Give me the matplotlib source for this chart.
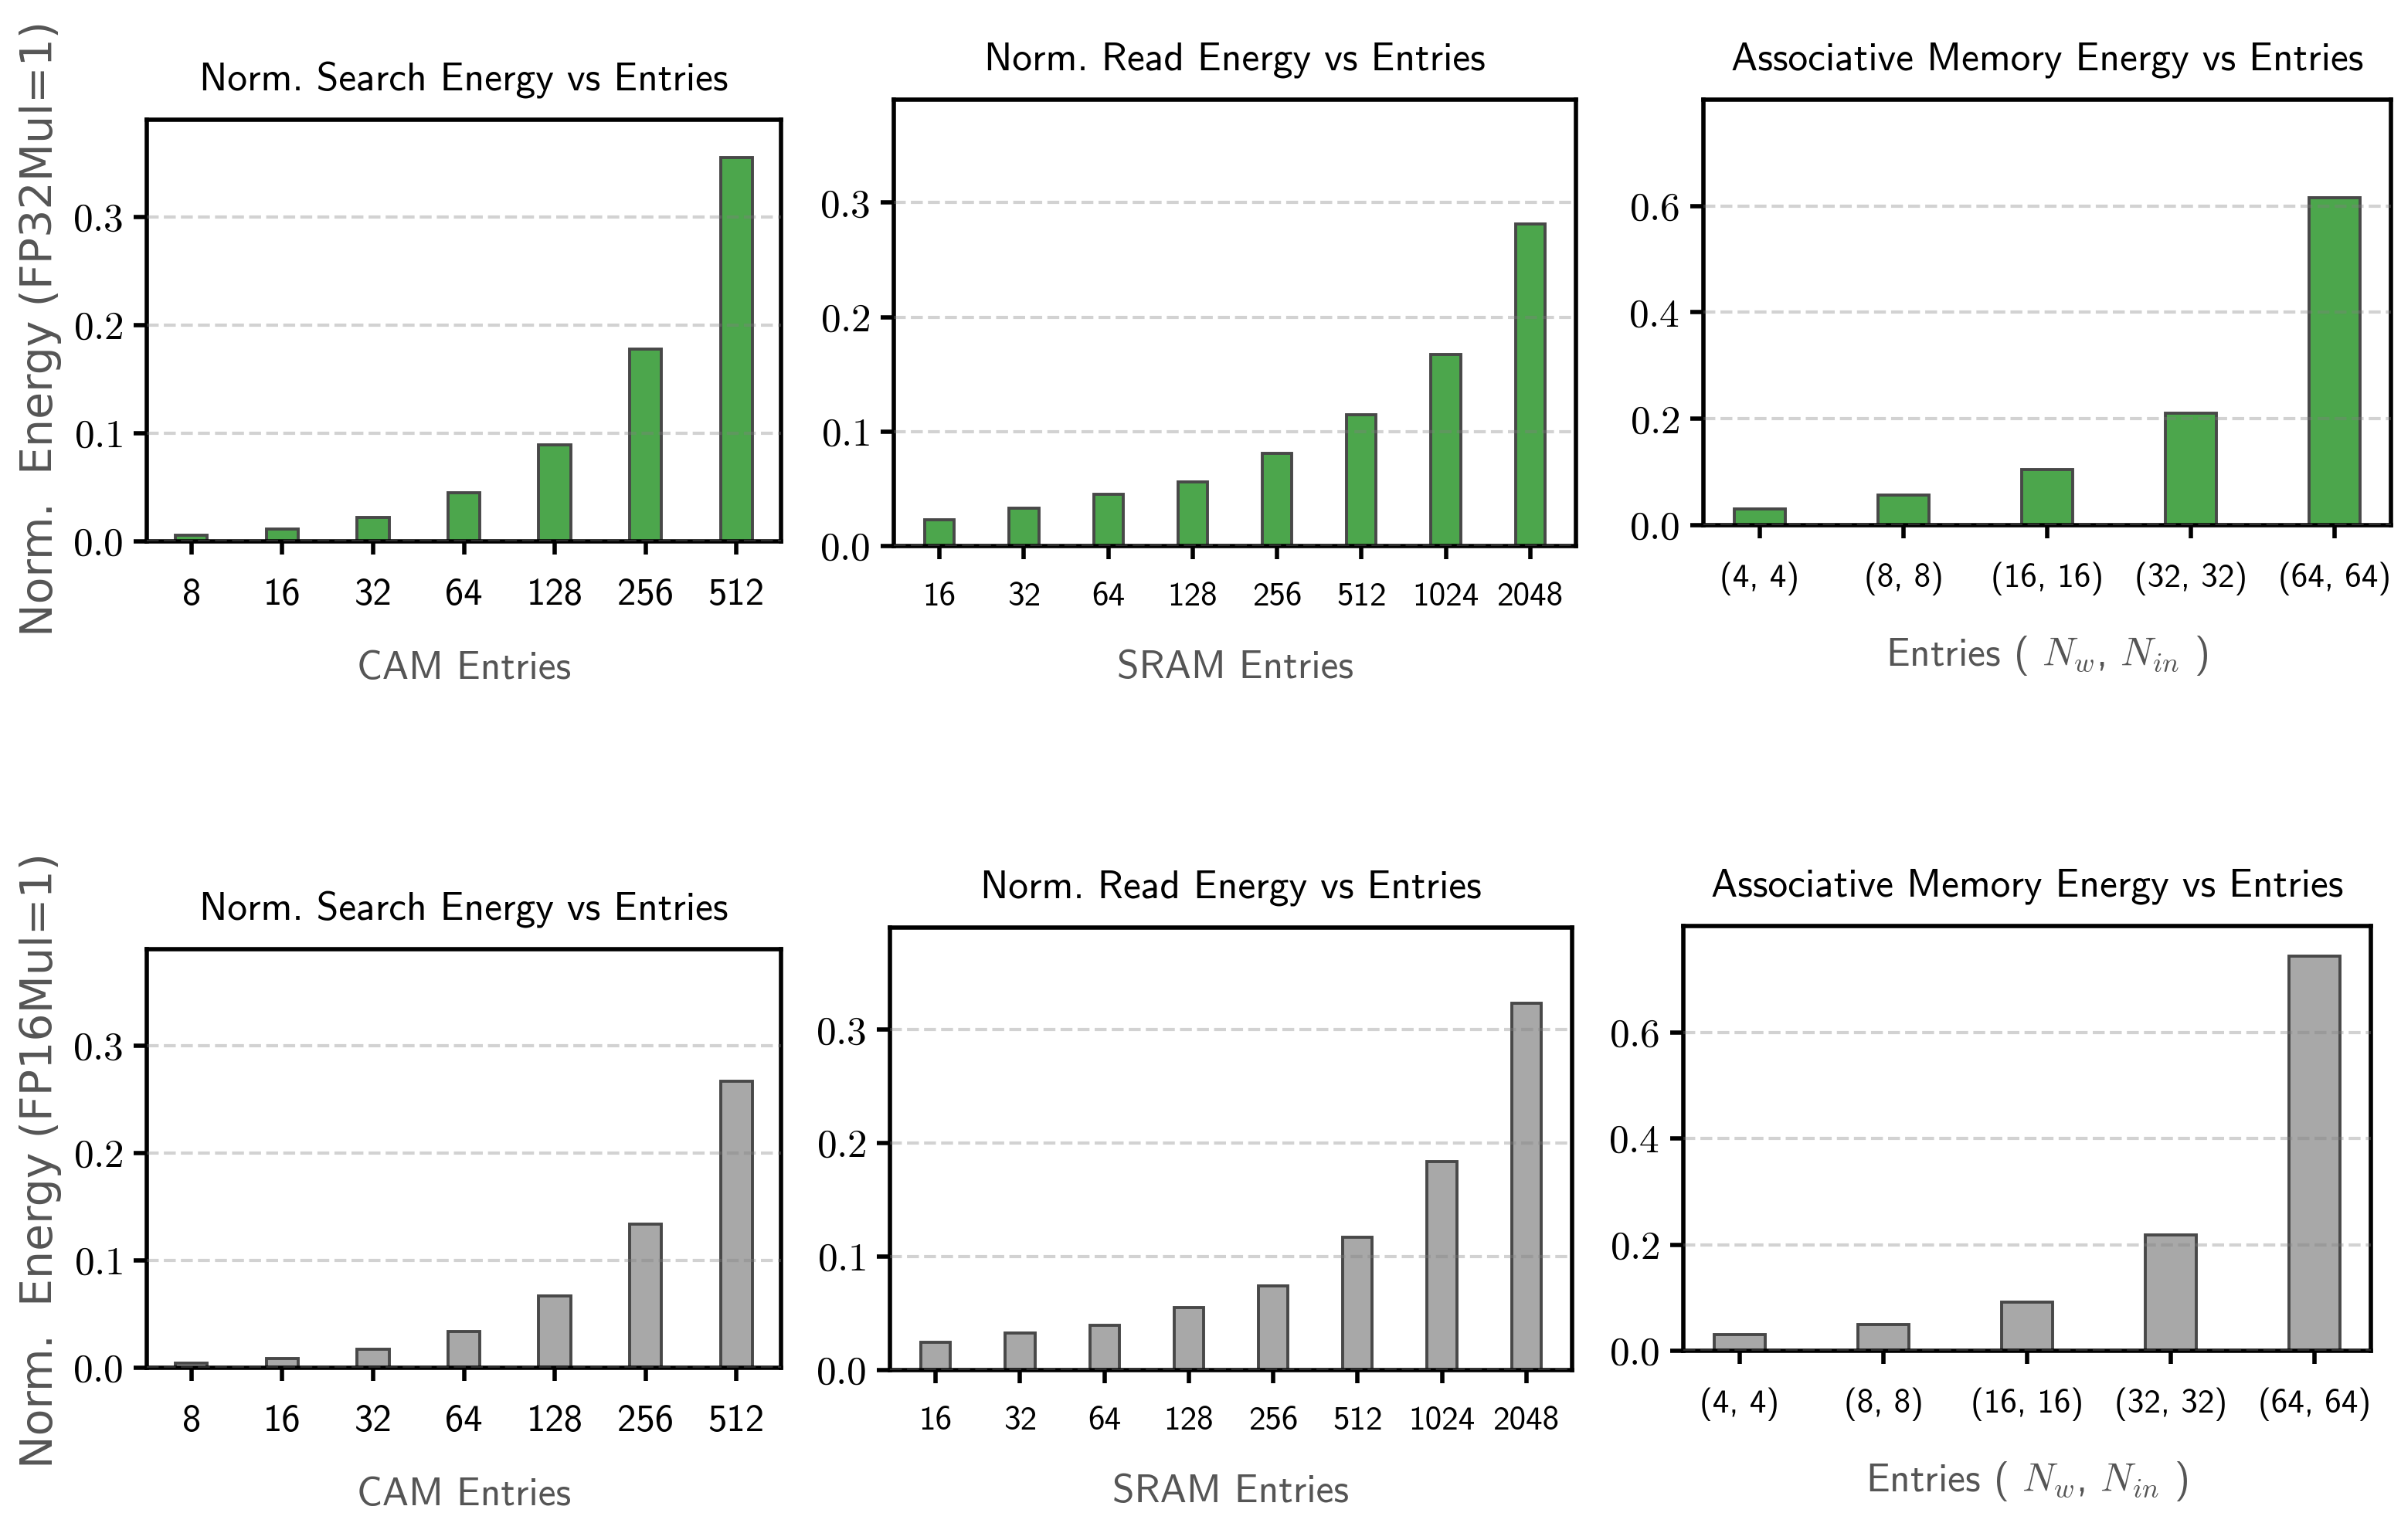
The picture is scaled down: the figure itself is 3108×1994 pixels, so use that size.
import numpy as np
import matplotlib
matplotlib.use('Agg')
import matplotlib.pyplot as plt

# data
cam_entries = ['8', '16', '32', '64', '128', '256', '512']
sram_entries = ['16', '32', '64', '128', '256', '512', '1024', '2048']
assoc_entries = ['(4, 4)', '(8, 8)', '(16, 16)', '(32, 32)', '(64, 64)']

cam_fp32 = [0.0055, 0.0112, 0.0223, 0.0447, 0.0895, 0.1775, 0.3553]
sram_fp32 = [0.0232, 0.0332, 0.0449, 0.0561, 0.0813, 0.1150, 0.1670, 0.2815]
assoc_fp32 = [0.0300, 0.0567, 0.1047, 0.2110, 0.6155]

cam_fp16 = [0.0043, 0.0086, 0.0172, 0.0340, 0.0672, 0.1336, 0.2668]
sram_fp16 = [0.0248, 0.0326, 0.0395, 0.0550, 0.0745, 0.1170, 0.1840, 0.3236]
assoc_fp16 = [0.0305, 0.0497, 0.0915, 0.2180, 0.7430]

W, H = 3108, 1994
DPI = 200

plt.rcParams['font.family'] = ['cmss10', 'DejaVu Sans']
plt.rcParams['mathtext.fontset'] = 'cm'
plt.rcParams['axes.unicode_minus'] = False

GREEN = '#4ca64c'
GREY = '#a8a8a8'
EDGE = '#484848'
LABEL_GREY = '#555555'


def px_box(left, right, top, bottom):
    # axes box in pixels of the output picture
    return [left / W, 1 - bottom / H, (right - left) / W, (bottom - top) / H]


def bar_panel(fig, box, labels, values, color, title, xlabel, ylim, yticks, xfs):
    ax = fig.add_axes(box)
    x = np.arange(len(labels))
    ax.bar(x, values, width=0.35, color=color, edgecolor=EDGE, linewidth=1.4, zorder=2)
    ax.set_xticks(x)
    ax.set_xticklabels(labels, fontsize=xfs)
    ax.set_ylim(0, ylim)
    ax.set_yticks(yticks)
    ax.set_yticklabels([f'${t:.1f}$' for t in yticks], fontsize=18.5)
    ax.grid(axis='y', linestyle='--', color='gray', alpha=0.35, linewidth=1.5, zorder=3)
    ax.set_axisbelow(False)
    for s in ax.spines.values():
        s.set_linewidth(2)
        s.set_color('black')
    ax.tick_params(axis='both', direction='out', length=6, width=2)
    ax.tick_params(axis='x', pad=11)
    ax.tick_params(axis='y', pad=5)
    ax.set_title(title, fontsize=18.5, pad=14)
    ax.set_xlabel(xlabel, fontsize=18.5, color=LABEL_GREY, labelpad=18)
    return ax


fig = plt.figure(figsize=(W / DPI, H / DPI), dpi=DPI)

# top row, FP32
bar_panel(fig, px_box(190, 1011, 155, 701), cam_entries, cam_fp32, GREEN,
          'Norm. Search Energy vs Entries', 'CAM Entries', 0.39, [0.0, 0.1, 0.2, 0.3], 17.5)
bar_panel(fig, px_box(1157, 2040, 129, 707), sram_entries, sram_fp32, GREEN,
          'Norm. Read Energy vs Entries', 'SRAM Entries', 0.39, [0.0, 0.1, 0.2, 0.3], 15.5)
bar_panel(fig, px_box(2205, 3095, 129, 680), assoc_entries, assoc_fp32, GREEN,
          'Associative Memory Energy vs Entries', 'Entries ( $N_w$, $N_{in}$ )', 0.80,
          [0.0, 0.2, 0.4, 0.6], 15.5)

# bottom row, FP16
bar_panel(fig, px_box(190, 1011, 1229, 1771), cam_entries, cam_fp16, GREY,
          'Norm. Search Energy vs Entries', 'CAM Entries', 0.39, [0.0, 0.1, 0.2, 0.3], 17.5)
bar_panel(fig, px_box(1152, 2035, 1201, 1774), sram_entries, sram_fp16, GREY,
          'Norm. Read Energy vs Entries', 'SRAM Entries', 0.39, [0.0, 0.1, 0.2, 0.3], 15.5)
bar_panel(fig, px_box(2179, 3069, 1199, 1749), assoc_entries, assoc_fp16, GREY,
          'Associative Memory Energy vs Entries', 'Entries ( $N_w$, $N_{in}$ )', 0.80,
          [0.0, 0.2, 0.4, 0.6], 15.5)

# shared y labels, one per row
fig.text(53 / W, 1 - 425 / H, 'Norm.  Energy (FP32Mul=1)', rotation=90, ha='center', va='center',
         fontsize=20.5, color=LABEL_GREY, family='DejaVu Sans')
fig.text(53 / W, 1 - 1503 / H, 'Norm.  Energy (FP16Mul=1)', rotation=90, ha='center', va='center',
         fontsize=20.5, color=LABEL_GREY, family='DejaVu Sans')

fig.savefig('out.png', dpi=DPI)
